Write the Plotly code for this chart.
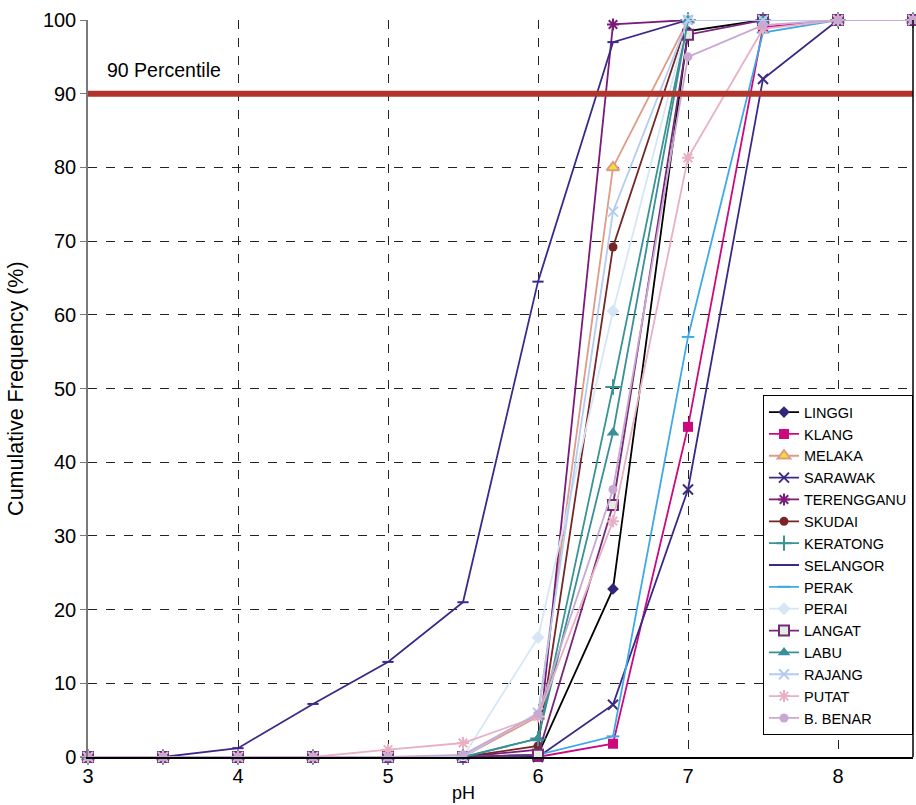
import plotly.graph_objects as go

ph = [3, 3.5, 4, 4.5, 5, 5.5, 6, 6.5, 7, 7.5, 8, 8.5]

LINGGI = [0, 0, 0, 0, 0, 0, 0.3, 22.8, 98.5, 100, 100, 100]
KLANG = [0, 0, 0, 0, 0, 0, 0, 1.8, 44.8, 99.0, 100, 100]
MELAKA = [0, 0, 0, 0, 0, 0, 5.5, 80.0, 100, 100, 100, 100]
SARAWAK = [0, 0, 0, 0, 0, 0, 0, 7.1, 36.3, 92.0, 100, 100]
TERENGGANU = [0, 0, 0, 0, 0, 0, 1.0, 99.4, 100, 100, 100, 100]
SKUDAI = [0, 0, 0, 0, 0, 0, 1.5, 69.2, 100, 100, 100, 100]
KERATONG = [0, 0, 0, 0, 0, 0, 2.5, 50.2, 100, 100, 100, 100]
SELANGOR = [0, 0, 1.2, 7.2, 12.9, 21.0, 64.5, 97.0, 100, 100, 100, 100]
PERAK = [0, 0, 0, 0, 0, 0, 0.3, 2.8, 57.0, 98.3, 100, 100]
PERAI = [0, 0, 0, 0, 0, 0, 16.2, 60.5, 100, 100, 100, 100]
LANGAT = [0, 0, 0, 0, 0, 0, 0.3, 34.2, 98.0, 100, 100, 100]
LABU = [0, 0, 0, 0, 0, 0, 2.5, 44.0, 100, 100, 100, 100]
RAJANG = [0, 0, 0, 0, 0, 0, 6.0, 74.0, 100, 100, 100, 100]
PUTAT = [0, 0, 0, 0, 1.0, 1.9, 5.5, 32.0, 81.3, 98.8, 100, 100]
B_BENAR = [0, 0, 0, 0, 0, 0.3, 5.8, 36.3, 95.0, 99.3, 100, 100]

PERCENTILE_LEVEL = 90
PERCENTILE_X = [3, 8.5]

series = [
    ("LINGGI", LINGGI, "#000000", "diamond", "#35257A", None, 9),
    ("KLANG", KLANG, "#CC0A7E", "square", "#CC0A7E", None, 10),
    ("MELAKA", MELAKA, "#E09A88", "triangle-up", "#F2E030", "#E09A88", 11),
    ("SARAWAK", SARAWAK, "#3B2A85", "x-thin-open", "#3B2A85", None, 10),
    ("TERENGGANU", TERENGGANU, "#7B1B7B", "asterisk-open", "#7B1B7B", None, 10),
    ("SKUDAI", SKUDAI, "#772626", "circle", "#772626", None, 9),
    ("KERATONG", KERATONG, "#3A9494", "cross-thin-open", "#3A9494", None, 11),
    ("SELANGOR", SELANGOR, "#3B2A88", "line-ew-open", "#3B2A88", None, 8),
    ("PERAK", PERAK, "#3FA9E8", "line-ew-open", "#3FA9E8", None, 9),
    ("PERAI", PERAI, "#D6E6F6", "diamond", "#D6E6F6", None, 10),
    ("LANGAT", LANGAT, "#76287A", "square", "#E2EEE2", "#76287A", 10),
    ("LABU", LABU, "#3A8F98", "triangle-up", "#3A8F98", None, 11),
    ("RAJANG", RAJANG, "#B3CCF0", "x-thin-open", "#B3CCF0", None, 10),
    ("PUTAT", PUTAT, "#E8B0C2", "asterisk-open", "#E8B0C2", None, 10),
    ("B. BENAR", B_BENAR, "#C9A8D2", "circle", "#C9A8D2", None, 9),
]

FONT = "Liberation Sans, Arial, sans-serif"

fig = go.Figure()
for name, vals, lc, sym, mc, mlc, size in series:
    marker = dict(symbol=sym, size=size, color=mc)
    if mlc is not None:
        marker["line"] = dict(color=mlc, width=2)
    elif sym.endswith("-open"):
        marker["line"] = dict(color=mc, width=2)
    else:
        marker["line"] = dict(width=0)
    fig.add_trace(go.Scatter(
        x=ph, y=vals, name=name, mode="lines+markers",
        line=dict(color=lc, width=1.8), marker=marker, cliponaxis=False,
    ))

fig.add_trace(go.Scatter(
    x=PERCENTILE_X, y=[PERCENTILE_LEVEL, PERCENTILE_LEVEL], mode="lines",
    line=dict(color="#B0342C", width=6), showlegend=False, hoverinfo="skip",
    cliponaxis=False,
))

fig.update_layout(
    width=916, height=805,
    margin=dict(l=88, r=3, t=20, b=48),
    paper_bgcolor="white", plot_bgcolor="white",
    font=dict(family=FONT, size=20, color="black"),
    showlegend=True,
    legend=dict(
        x=1, xanchor="right", y=0.491, yanchor="top",
        bgcolor="white", bordercolor="black", borderwidth=1,
        font=dict(family=FONT, size=14.5, color="black"),
        traceorder="normal", tracegroupgap=0,
    ),
    xaxis=dict(
        range=[3, 8.5], tickmode="linear", tick0=3, dtick=1,
        showgrid=True, gridcolor="#222222", griddash="dash", gridwidth=1,
        showline=True, linecolor="black", linewidth=1.5,
        zeroline=False, ticks="", tickfont=dict(size=20),
    ),
    yaxis=dict(
        range=[0, 100], tickmode="linear", tick0=0, dtick=10,
        showgrid=True, gridcolor="#222222", griddash="dash", gridwidth=1,
        showline=True, linecolor="#7a7a7a", linewidth=1.5,
        zeroline=False, ticks="outside", ticklen=6, tickcolor="#7a7a7a",
        tickfont=dict(size=20),
    ),
    shapes=[dict(type="line", xref="paper", yref="paper", x0=1, x1=1, y0=0, y1=1,
                 line=dict(color="black", width=1.5))],
    annotations=[
        dict(text="90 Percentile", x=3.11, y=93.2, xref="x", yref="y",
             xanchor="left", yanchor="middle", showarrow=False,
             font=dict(size=19.5)),
        dict(text="pH", x=5.5, y=-0.0645, xref="x", yref="paper",
             xanchor="center", yanchor="bottom", showarrow=False,
             font=dict(size=18)),
        dict(text="Cumulative Frequency (%)", x=-0.088, y=0.5, xref="paper",
             yref="paper", xanchor="center", yanchor="middle", textangle=-90,
             showarrow=False, font=dict(size=21.5)),
    ],
)

fig.write_html("out.html")
